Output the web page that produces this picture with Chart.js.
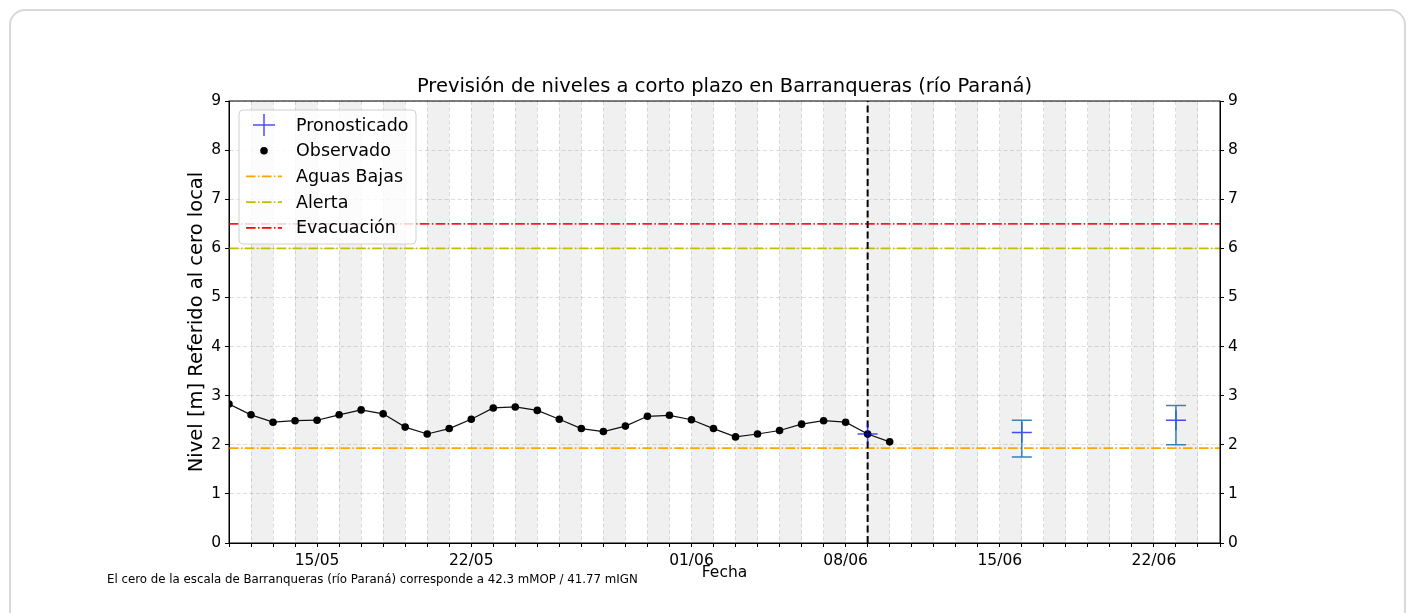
<!DOCTYPE html>
<html>
<head>
<meta charset="utf-8">
<script src="https://cdn.jsdelivr.net/npm/chart.js@4/dist/chart.umd.min.js"></script>
<style>
  html, body { margin: 0; padding: 0; background: #fff; }
  body { width: 1414px; height: 613px; position: relative; overflow: hidden; font-family: "DejaVu Sans", sans-serif; }
  #card { position: absolute; left: 9px; top: 9px; width: 1397px; height: 640px; border: 2px solid #d8d8d8; border-radius: 16px; box-sizing: border-box; }
  #wrap { position: absolute; left: 0; top: 0; width: 1414px; height: 613px; }
  #note { position: absolute; left: 107px; top: 572px; font-size: 11.8px; color: #000; white-space: nowrap; }
</style>
</head>
<body>
<div id="card"></div>
<div id="wrap"><canvas id="levelChart"></canvas></div>
<div id="note">El cero de la escala de Barranqueras (río Paraná) corresponde a 42.3 mMOP / 41.77 mIGN</div>
<script>
// observed levels, one per day
const obsDates = ['11/05','12/05','13/05','14/05','15/05','16/05','17/05','18/05','19/05','20/05',
  '21/05','22/05','23/05','24/05','25/05','26/05','27/05','28/05','29/05','30/05','31/05',
  '01/06','02/06','03/06','04/06','05/06','06/06','07/06','08/06','09/06','10/06'];
const obsLevels = [2.83, 2.61, 2.46, 2.49, 2.50, 2.61, 2.71, 2.63, 2.36, 2.22,
  2.33, 2.52, 2.75, 2.77, 2.70, 2.52, 2.33, 2.27, 2.38, 2.58, 2.60,
  2.51, 2.33, 2.16, 2.22, 2.29, 2.42, 2.49, 2.46, 2.22, 2.06];

// forecast
const fcDates = ['09/06', '16/06', '23/06'];
const fcLevels = [2.22, 2.25, 2.50];
const fcLow = [null, 1.75, 2.00];
const fcHigh = [null, 2.50, 2.80];

// reference levels
const aguasBajas = 1.93;
const alerta = 6.0;
const evacuacion = 6.5;

const issueDate = '09/06';
const xStart = '11/05';
const xEnd = '25/06';
const tickLabels = ['15/05', '22/05', '01/06', '08/06', '15/06', '22/06'];

const FONT = '"DejaVu Sans", sans-serif';
const DASHDOT = [9.6, 2.4, 1.5, 2.4];
const FC_COLOR = 'rgba(0,0,255,0.7)';
const ERR_COLOR = 'rgba(31,119,180,0.9)';

function dayIndex(s) {
  const [d, m] = s.split('/').map(Number);
  const [d0, m0] = xStart.split('/').map(Number);
  return Math.round((Date.UTC(2024, m - 1, d) - Date.UTC(2024, m0 - 1, d0)) / 86400000);
}
function dayLabel(i) {
  const [d0, m0] = xStart.split('/').map(Number);
  const dt = new Date(Date.UTC(2024, m0 - 1, d0) + i * 86400000);
  return String(dt.getUTCDate()).padStart(2, '0') + '/' + String(dt.getUTCMonth() + 1).padStart(2, '0');
}

const xMin = 0;
const xMax = dayIndex(xEnd);

function hline(label, y, color, order) {
  return {
    label: label,
    data: [{ x: xMin, y: y }, { x: xMax, y: y }],
    showLine: true,
    borderColor: color,
    borderWidth: 1.8,
    borderDash: DASHDOT,
    pointRadius: 0,
    order: order
  };
}

// alternating gray day bands, under the grid
const bandsPlugin = {
  id: 'bands',
  beforeDraw(chart) {
    const { ctx, chartArea: a, scales: { x } } = chart;
    ctx.save();
    ctx.fillStyle = '#f0f0f0';
    for (let i = 1; i < xMax; i += 2) {
      const x1 = x.getPixelForValue(i);
      const x2 = x.getPixelForValue(i + 1);
      ctx.fillRect(x1, a.top, x2 - x1, a.bottom - a.top);
    }
    ctx.restore();
  }
};

// error bars on forecast + frame + texts + legend
const extrasPlugin = {
  id: 'extras',
  afterDatasetsDraw(chart) {
    const { ctx, scales: { x, y } } = chart;
    ctx.save();
    ctx.strokeStyle = ERR_COLOR;
    ctx.lineWidth = 1.5;
    for (let i = 0; i < fcDates.length; i++) {
      if (fcLow[i] == null) continue;
      const px = x.getPixelForValue(dayIndex(fcDates[i]));
      const y1 = y.getPixelForValue(fcLow[i]);
      const y2 = y.getPixelForValue(fcHigh[i]);
      ctx.beginPath();
      ctx.moveTo(px, y1); ctx.lineTo(px, y2);
      ctx.moveTo(px - 10, y1); ctx.lineTo(px + 10, y1);
      ctx.moveTo(px - 10, y2); ctx.lineTo(px + 10, y2);
      ctx.stroke();
    }
    ctx.restore();
  },
  afterDraw(chart) {
    const { ctx, chartArea: a } = chart;
    ctx.save();
    // frame
    ctx.strokeStyle = '#000';
    ctx.lineWidth = 1;
    ctx.strokeRect(a.left, a.top, a.right - a.left, a.bottom - a.top);

    ctx.fillStyle = '#000';
    ctx.textAlign = 'center';
    ctx.textBaseline = 'middle';
    ctx.font = '19.5px ' + FONT;
    ctx.fillText('Previsión de niveles a corto plazo en Barranqueras (río Paraná)', (a.left + a.right) / 2, 87);
    ctx.font = '15.5px ' + FONT;
    ctx.fillText('Fecha', (a.left + a.right) / 2, 573);
    ctx.save();
    ctx.translate(197, (a.top + a.bottom) / 2);
    ctx.rotate(-Math.PI / 2);
    ctx.font = '19.5px ' + FONT;
    ctx.fillText('Nivel [m] Referido al cero local', 0, 0);
    ctx.restore();

    // legend
    const lx = a.left + 10, ly = a.top + 9, lw = 177, lh = 134;
    ctx.fillStyle = 'rgba(255,255,255,0.8)';
    ctx.strokeStyle = '#d0d0d0';
    ctx.beginPath();
    ctx.roundRect(lx, ly, lw, lh, 4);
    ctx.fill();
    ctx.stroke();
    const items = [
      { label: 'Pronosticado', kind: 'cross', color: FC_COLOR },
      { label: 'Observado', kind: 'dot', color: '#000' },
      { label: 'Aguas Bajas', kind: 'line', color: '#FFA500' },
      { label: 'Alerta', kind: 'line', color: '#BFBF00' },
      { label: 'Evacuación', kind: 'line', color: '#FF0000' }
    ];
    ctx.font = '17.5px ' + FONT;
    ctx.textAlign = 'left';
    items.forEach((it, k) => {
      const cy = ly + 15 + k * 25.7;
      const hx1 = lx + 7, hx2 = lx + 43, hc = (hx1 + hx2) / 2;
      ctx.save();
      if (it.kind === 'cross') {
        ctx.strokeStyle = it.color; ctx.lineWidth = 1.5;
        ctx.beginPath();
        ctx.moveTo(hc - 11, cy); ctx.lineTo(hc + 11, cy);
        ctx.moveTo(hc, cy - 11); ctx.lineTo(hc, cy + 11);
        ctx.stroke();
      } else if (it.kind === 'dot') {
        ctx.fillStyle = it.color;
        ctx.beginPath(); ctx.arc(hc, cy, 3.8, 0, Math.PI * 2); ctx.fill();
      } else {
        ctx.strokeStyle = it.color; ctx.lineWidth = 1.8; ctx.setLineDash(DASHDOT);
        ctx.beginPath(); ctx.moveTo(hx1, cy); ctx.lineTo(hx2, cy); ctx.stroke();
      }
      ctx.restore();
      ctx.fillStyle = '#000';
      ctx.fillText(it.label, lx + 57, cy + 1);
    });
    ctx.restore();
  }
};

const canvas = document.getElementById('levelChart');
canvas.width = 1414;
canvas.height = 613;

const gridOpts = { color: 'rgba(0,0,0,0.13)', tickColor: '#000', tickLength: 4, tickBorderDash: [] };
const tickFont = { family: FONT, size: 15.5 };

new Chart(canvas, {
  type: 'scatter',
  data: {
    datasets: [
      {
        label: 'Pronosticado',
        data: fcDates.map((d, i) => ({ x: dayIndex(d), y: fcLevels[i] })),
        pointStyle: 'cross',
        pointRadius: 10,
        pointHoverRadius: 10,
        pointBorderWidth: 1.5,
        borderColor: FC_COLOR,
        backgroundColor: FC_COLOR,
        showLine: false,
        order: 0
      },
      {
        label: 'Observado',
        data: obsDates.map((d, i) => ({ x: dayIndex(d), y: obsLevels[i] })),
        showLine: true,
        borderColor: '#111',
        borderWidth: 1.2,
        pointRadius: 3.8,
        pointBackgroundColor: '#000',
        pointBorderColor: '#000',
        pointBorderWidth: 0,
        order: 1
      },
      {
        label: 'issue',
        data: [{ x: dayIndex(issueDate), y: 0 }, { x: dayIndex(issueDate), y: 9 }],
        showLine: true,
        borderColor: '#000',
        borderWidth: 2,
        borderDash: [7, 3.5],
        pointRadius: 0,
        order: 2
      },
      hline('Aguas Bajas', aguasBajas, '#FFA500', 3),
      hline('Alerta', alerta, '#BFBF00', 4),
      hline('Evacuación', evacuacion, '#FF1A1A', 5)
    ]
  },
  options: {
    responsive: false,
    animation: false,
    layout: { padding: { top: 101, left: 0, right: 0, bottom: 0 } },
    plugins: {
      legend: { display: false },
      tooltip: { enabled: false },
      title: { display: false }
    },
    scales: {
      x: {
        type: 'linear',
        position: 'bottom',
        min: xMin,
        max: xMax,
        afterFit: (s) => { s.height = 70; },
        grid: gridOpts,
        border: { display: true, color: '#000', width: 1, dash: [4, 2.5] },
        ticks: {
          stepSize: 1,
          maxTicksLimit: 200,
          autoSkip: false,
          maxRotation: 0,
          padding: 5,
          color: '#000',
          font: tickFont,
          callback: (v) => {
            const lbl = dayLabel(v);
            return tickLabels.includes(lbl) ? lbl : '';
          }
        }
      },
      y: {
        type: 'linear',
        position: 'left',
        min: 0,
        max: 9,
        afterFit: (s) => { s.width = 229; },
        grid: gridOpts,
        border: { display: true, color: '#000', width: 1, dash: [4, 2.5] },
        ticks: { stepSize: 1, padding: 4, color: '#000', font: tickFont }
      },
      y2: {
        type: 'linear',
        position: 'right',
        min: 0,
        max: 9,
        afterFit: (s) => { s.width = 194; },
        grid: { drawOnChartArea: false, tickColor: '#000', tickLength: 4 },
        border: { display: true, color: '#000', width: 1 },
        ticks: { stepSize: 1, padding: 4, color: '#000', font: tickFont }
      }
    }
  },
  plugins: [bandsPlugin, extrasPlugin]
});
</script>
</body>
</html>
